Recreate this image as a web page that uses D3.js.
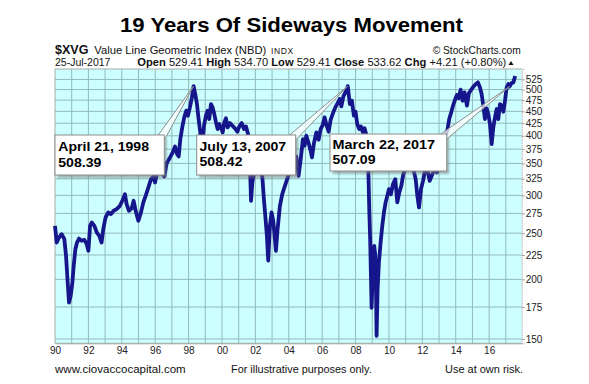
<!DOCTYPE html>
<html><head><meta charset="utf-8">
<script src="https://cdn.jsdelivr.net/npm/d3@7"></script>
<style>html,body{margin:0;padding:0;background:#fff}svg{display:block}text{font-family:"Liberation Sans",Arial,sans-serif}</style>
</head><body><svg id="c" width="589" height="384"></svg>
<script>
// ---- DATA ----
const years = [1990.00,1990.10,1990.24,1990.40,1990.56,1990.66,1990.76,1990.84,1990.94,1991.04,1991.12,1991.22,1991.32,1991.44,1991.60,1991.76,1991.90,1992.00,1992.10,1992.20,1992.36,1992.50,1992.65,1992.79,1992.89,1993.03,1993.19,1993.35,1993.51,1993.69,1993.89,1994.05,1994.19,1994.29,1994.43,1994.59,1994.71,1994.83,1994.99,1995.15,1995.29,1995.43,1995.59,1995.75,1995.89,1995.99,1996.09,1996.23,1996.39,1996.55,1996.69,1996.89,1997.03,1997.19,1997.31,1997.41,1997.50,1997.62,1997.74,1997.86,1997.96,1998.08,1998.20,1998.30,1998.40,1998.50,1998.60,1998.70,1998.78,1998.86,1998.94,1999.04,1999.14,1999.24,1999.34,1999.44,1999.54,1999.64,1999.74,1999.84,1999.94,2000.04,2000.14,2000.24,2000.34,2000.48,2000.62,2000.78,2000.92,2001.04,2001.18,2001.32,2001.44,2001.56,2001.66,2001.74,2001.82,2001.92,2002.04,2002.18,2002.32,2002.42,2002.51,2002.61,2002.69,2002.77,2002.87,2002.97,2003.07,2003.17,2003.23,2003.33,2003.47,2003.61,2003.77,2003.97,
2004.19,2004.45,2004.59,2004.71,2004.85,2004.95,2005.05,2005.19,2005.31,2005.39,2005.51,2005.65,2005.79,2005.91,2006.03,2006.15,2006.27,2006.39,2006.51,2006.65,2006.79,2006.95,2007.05,2007.15,2007.27,2007.39,2007.47,2007.53,2007.66,2007.78,2007.90,2008.00,2008.10,2008.22,2008.32,2008.44,2008.54,2008.66,2008.76,2008.82,2008.88,2008.96,2009.04,2009.12,2009.18,2009.22,2009.26,2009.32,2009.40,2009.50,2009.60,2009.70,2009.80,2009.90,2010.00,2010.12,2010.24,2010.38,2010.50,2010.62,2010.74,2010.86,2010.98,2011.14,2011.30,2011.46,2011.60,2011.70,2011.80,2011.92,2012.04,2012.16,2012.30,2012.44,2012.58,2012.73,2012.87,2013.03,2013.17,2013.29,2013.41,2013.51,2013.61,2013.73,2013.85,2013.97,2014.07,2014.17,2014.29,2014.41,2014.53,2014.67,2014.79,2014.93,2015.07,2015.21,2015.33,2015.45,2015.55,2015.65,2015.75,2015.85,2015.95,2016.05,2016.15,2016.25,2016.35,2016.45,2016.55,2016.65,2016.75,2016.85,2016.95,2017.05,2017.15,2017.22,2017.35,2017.45,2017.56];
const values = [259.0,238.9,244.8,248.8,242.8,224.1,197.0,178.8,184.7,197.0,213.5,231.3,238.9,243.5,240.9,242.0,237.0,229.6,259.0,263.2,259.0,250.8,246.8,238.9,254.8,269.7,276.3,274.1,278.5,280.8,285.3,293.4,301.7,287.6,278.5,281.7,292.3,278.5,265.3,276.3,290.0,299.3,311.6,324.4,328.6,319.2,330.8,340.5,335.1,328.6,350.6,360.3,367.9,380.0,366.1,362.0,392.4,416.6,437.2,451.5,440.7,458.8,481.5,508.39,489.3,466.2,433.7,406.6,378.1,400.1,423.3,440.7,451.4,433.7,466.2,458.8,444.3,426.7,413.2,423.3,416.6,406.6,426.7,435.1,416.6,425.3,419.9,414.6,407.9,418.5,425.3,413.2,418.5,403.4,363.2,292.3,319.2,335.1,340.5,346.0,340.5,327.0,294.6,267.5,246.8,219.0,259.0,276.3,265.3,242.8,229.6,254.8,285.3,301.7,314.1,329.7,
346.0,362.0,329.7,356.3,393.7,381.2,400.1,386.2,372.1,360.3,386.2,406.6,392.4,413.2,421.2,437.2,419.9,407.9,432.3,446.4,458.8,470.0,477.6,460.9,483.8,493.2,499.6,508.42,466.2,473.8,440.7,449.3,423.3,413.2,418.5,406.6,414.6,400.1,346.0,280.8,238.9,174.4,210.3,235.1,224.1,197.0,152.3,190.8,217.2,238.9,259.0,276.3,290.0,299.3,309.2,301.7,316.6,324.4,290.0,304.2,314.1,332.4,340.5,343.2,340.5,340.5,324.4,299.3,283.0,309.2,321.8,337.8,340.5,321.8,330.8,340.5,335.1,346.0,363.2,384.3,403.4,413.2,433.7,447.9,464.0,477.6,486.9,479.1,499.6,473.8,493.2,462.5,491.6,499.6,507.8,513.5,517.6,505.3,489.3,462.5,433.7,456.6,444.3,423.3,384.3,416.6,437.2,455.1,433.7,466.2,462.5,449.3,473.8,505.3,513.5,507.09,516.0,517.6,533.62];
const yTicks = [150,175,200,225,250,275,300,325,350,375,400,425,450,475,500,525];
const xTickYears = [1990,1992,1994,1996,1998,2000,2002,2004,2006,2008,2010,2012,2014,2016];
const annoDates = [1998.30, 2007.53, 2017.22];
const annoValues = [508.39, 508.42, 507.09];
const annoTitles = ["April 21, 1998", "July 13, 2007", "March 22, 2017"];

// ---- LAYOUT ----
const svg = d3.select("#c");
svg.append("rect").attr("width",589).attr("height",384).attr("fill","#fff");
const L=55, R=521.7, T=69, B=343.3;
const x = d3.scaleLinear().domain([1990, 2017.95]).range([L, R]);
const y = d3.scaleLog().domain([146.9, 552.1]).range([B, T]);

// title & header
svg.append("text").attr("x",291.5).attr("y",31.7).attr("text-anchor","middle")
  .attr("font-size",20).attr("font-weight","bold").attr("fill","#000")
  .attr("textLength",343).attr("lengthAdjust","spacingAndGlyphs")
  .text("19 Years Of Sideways Movement");
svg.append("text").attr("x",55).attr("y",53.5).attr("font-size",12.5).attr("font-weight","bold").attr("fill","#111").text("$XVG");
svg.append("text").attr("x",94.3).attr("y",53.5).attr("font-size",11).attr("fill","#111")
  .attr("textLength",172).attr("lengthAdjust","spacingAndGlyphs").text("Value Line Geometric Index (NBD)");
svg.append("text").attr("x",271).attr("y",53.5).attr("font-size",8.5).attr("letter-spacing",0.6).attr("fill","#111").text("INDX");
svg.append("text").attr("x",520.7).attr("y",53.5).attr("text-anchor","end").attr("font-size",10.5)
  .attr("font-family","'DejaVu Sans', sans-serif").attr("fill","#111")
  .attr("textLength",88).attr("lengthAdjust","spacingAndGlyphs").text("\u00A9 StockCharts.com");
svg.append("text").attr("x",55).attr("y",66).attr("font-size",10.5).attr("fill","#111").text("25-Jul-2017");
const hdr = svg.append("text").attr("x",137.3).attr("y",66).attr("font-size",10.5).attr("fill","#111")
  .attr("textLength",369).attr("lengthAdjust","spacingAndGlyphs");
[["Open","529.41"],["High","534.70"],["Low","529.41"],["Close","533.62"],["Chg","+4.21 (+0.80%)"]].forEach((p,i)=>{
  hdr.append("tspan").attr("font-weight","bold").attr("font-size",10.5).text((i?"  ":"")+p[0]);
  hdr.append("tspan").text(" "+p[1]);
});
svg.append("path").attr("d",`M${508.5},65 L${513.5},65 L${511},61 Z`).attr("fill","#111");

// plot background
svg.append("rect").attr("x",L).attr("y",T).attr("width",R-L).attr("height",B-T).attr("fill","#ccffff");
const g = svg.append("g");
g.selectAll("line.vg").data(d3.range(1991,2018)).join("line").attr("class","vg")
  .attr("x1",d=>x(d)).attr("x2",d=>x(d)).attr("y1",T).attr("y2",B)
  .attr("stroke","#93babd").attr("stroke-width",1);
g.selectAll("line.hg").data(yTicks).join("line").attr("class","hg")
  .attr("x1",L).attr("x2",R).attr("y1",d=>y(d)).attr("y2",d=>y(d))
  .attr("stroke","#93babd").attr("stroke-width",1);
// border
svg.append("path").attr("d",`M${R},${T} L${L},${T} L${L},${B} L${R},${B}`).attr("fill","none").attr("stroke","#a8a8a8");

// axes
const ya = svg.append("g").attr("transform",`translate(${R},0)`)
  .call(d3.axisRight(y).tickValues(yTicks).tickFormat(d3.format("d")).tickSize(3).tickPadding(1));
ya.select(".domain").attr("stroke","#999").attr("stroke-dasharray","1,1");
ya.selectAll(".tick line").attr("stroke","#999");
ya.selectAll("text").attr("font-size",10).attr("fill","#222").attr("font-family","'Liberation Sans',Arial,sans-serif");
const xa = svg.append("g").attr("transform",`translate(0,${B})`)
  .call(d3.axisBottom(x).tickValues(xTickYears).tickFormat(d=>String(d).slice(2)).tickSize(0).tickPadding(4));
xa.select(".domain").attr("stroke","#a8a8a8");
xa.selectAll("text").attr("font-size",10).attr("fill","#222").attr("font-family","'Liberation Sans',Arial,sans-serif");

// data line
const pts = d3.zip(years, values);
svg.append("path").datum(pts)
  .attr("d", d3.line().x(d=>x(d[0])).y(d=>y(d[1])))
  .attr("fill","none").attr("stroke","#16168c").attr("stroke-width",3.8).attr("stroke-linejoin","round");

// annotations
const defs = svg.append("defs");
defs.append("filter").attr("id","blur").append("feGaussianBlur").attr("stdDeviation",1.2);
const boxes = [
  {x:55, y:135, w:109.3, h:40, tx:58.3, t1:151, t2:166.5, l1:90.7},
  {x:196.7, y:135, w:99, h:40, tx:199.5, t1:150.5, t2:166, l1:86.7},
  {x:330, y:134, w:116.7, h:37, tx:332.5, t1:148.5, t2:164, l1:102.4}
];
boxes.forEach((b,i)=>{
  const ax = x(annoDates[i]), ay = y(annoValues[i]);
  svg.append("rect").attr("x",b.x+2.5).attr("y",b.y+3).attr("width",b.w).attr("height",b.h)
    .attr("fill","#777").attr("opacity",0.55).attr("filter","url(#blur)");
  svg.append("path").attr("d",`M${b.x+b.w-6},${b.y} L${ax},${ay} L${b.x+b.w},${b.y+5} Z`)
    .attr("fill","#fff").attr("fill-opacity",0.72).attr("stroke","#8c8c8c").attr("stroke-width",1);
  svg.append("rect").attr("x",b.x).attr("y",b.y).attr("width",b.w).attr("height",b.h)
    .attr("fill","#fff").attr("stroke","#8c8c8c").attr("stroke-width",1);
  svg.append("text").attr("x",b.tx).attr("y",b.t1).attr("font-size",13.5).attr("font-weight","bold").attr("fill","#000")
    .attr("textLength", b.l1).attr("lengthAdjust","spacingAndGlyphs").text(annoTitles[i]);
  svg.append("text").attr("x",b.tx).attr("y",b.t2).attr("font-size",13.5).attr("font-weight","bold").attr("fill","#000")
    .attr("textLength",43).attr("lengthAdjust","spacingAndGlyphs").text(d3.format(".2f")(annoValues[i]));
});

// footer
svg.append("text").attr("x",55).attr("y",372.7).attr("font-size",11).attr("fill","#111")
  .attr("textLength",130.7).attr("lengthAdjust","spacingAndGlyphs").text("www.ciovaccocapital.com");
svg.append("text").attr("x",231).attr("y",372.7).attr("font-size",11).attr("fill","#111")
  .attr("textLength",140.7).attr("lengthAdjust","spacingAndGlyphs").text("For illustrative purposes only.");
svg.append("text").attr("x",445).attr("y",372.7).attr("font-size",11).attr("fill","#111")
  .attr("textLength",78).attr("lengthAdjust","spacingAndGlyphs").text("Use at own risk.");
</script></body></html>
